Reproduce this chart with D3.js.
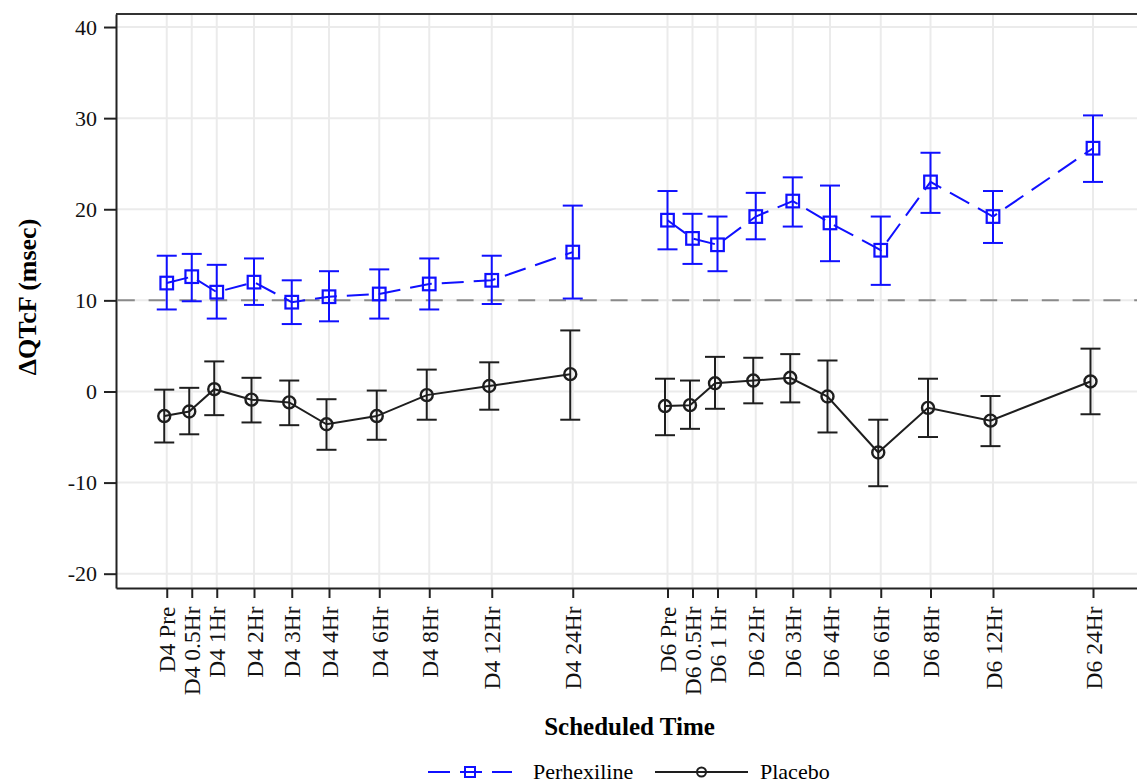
<!DOCTYPE html>
<html>
<head>
<meta charset="utf-8">
<script src="https://cdnjs.cloudflare.com/ajax/libs/d3/7.8.5/d3.min.js"></script>
<style>
  body { margin: 0; background: #fff; }
  svg { display: block; font-family: "Liberation Serif", "Times New Roman", serif; }
  .grid line { stroke: #ebebeb; stroke-width: 2; }
  .axis path { stroke: #222; stroke-width: 2; }
  .axis line { stroke: #222; stroke-width: 2; }
  .axis text { fill: #111; font-family: "Liberation Serif", "Times New Roman", serif; }
</style>
</head>
<body>
<div id="chart"></div>
<script>
// scheduled time points (axis position in plot units, label)
var timeLabels = ['D4 Pre', 'D4 0.5Hr', 'D4 1Hr', 'D4 2Hr', 'D4 3Hr', 'D4 4Hr', 'D4 6Hr', 'D4 8Hr', 'D4 12Hr', 'D4 24Hr',
                  'D6 Pre', 'D6 0.5Hr', 'D6 1 Hr', 'D6 2Hr', 'D6 3Hr', 'D6 4Hr', 'D6 6Hr', 'D6 8Hr', 'D6 12Hr', 'D6 24Hr'];
var timeValues = [0, 1, 2, 3.49, 5, 6.49, 8.5, 10.5, 13, 16.24,
                  20.03, 21.03, 22.03, 23.56, 25.04, 26.53, 28.56, 30.55, 33.05, 37.05];

var perhexMean  = [11.9, 12.6, 10.9, 12.0, 9.8, 10.4, 10.7, 11.8, 12.2, 15.3, 18.8, 16.8, 16.1, 19.2, 20.9, 18.5, 15.5, 23.0, 19.2, 26.7];
var perhexLower = [9.0, 9.9, 8.0, 9.5, 7.4, 7.7, 8.0, 9.0, 9.6, 10.2, 15.6, 14.0, 13.2, 16.7, 18.1, 14.3, 11.7, 19.6, 16.3, 23.0];
var perhexUpper = [14.9, 15.1, 13.9, 14.6, 12.2, 13.2, 13.4, 14.6, 14.9, 20.4, 22.0, 19.5, 19.2, 21.8, 23.5, 22.6, 19.2, 26.2, 22.0, 30.3];

var placeboMean  = [-2.7, -2.2, 0.25, -0.9, -1.2, -3.6, -2.7, -0.4, 0.6, 1.9, -1.6, -1.5, 0.9, 1.2, 1.5, -0.55, -6.7, -1.8, -3.2, 1.1];
var placeboLower = [-5.6, -4.7, -2.6, -3.4, -3.7, -6.4, -5.3, -3.1, -2.0, -3.1, -4.8, -4.1, -1.9, -1.3, -1.2, -4.5, -10.4, -5.0, -6.0, -2.5];
var placeboUpper = [0.2, 0.4, 3.3, 1.5, 1.2, -0.85, 0.1, 2.4, 3.2, 6.7, 1.4, 1.2, 3.8, 3.7, 4.1, 3.4, -3.1, 1.4, -0.5, 4.7];

var yTicks = [-20, -10, 0, 10, 20, 30, 40];
var refValue = 10;

var margin = { top: 14, right: 0, bottom: 196, left: 116 },
    W = 1137, H = 784,
    w = W - margin.left - margin.right,
    h = H - margin.top - margin.bottom;

var x = d3.scaleLinear().domain([-2.03, 38.81]).range([0, w]);
var y = d3.scaleLinear().domain([-21.57, 41.43]).range([h, 0]);

var svg = d3.select('#chart').append('svg')
  .attr('width', W)
  .attr('height', H);
var g = svg.append('g')
  .attr('transform', 'translate(' + margin.left + ',' + margin.top + ')');

// grid
var grid = g.append('g').attr('class', 'grid');
grid.selectAll('.gy').data(yTicks).enter().append('line')
  .attr('x1', 0).attr('x2', w)
  .attr('y1', function(d) { return y(d); }).attr('y2', function(d) { return y(d); });
grid.selectAll('.gx').data(timeValues).enter().append('line')
  .attr('y1', 0).attr('y2', h)
  .attr('x1', function(d) { return x(d); }).attr('x2', function(d) { return x(d); });

// reference line
g.append('line')
  .attr('x1', 0).attr('x2', w)
  .attr('y1', y(refValue)).attr('y2', y(refValue))
  .attr('stroke', '#8a8a8a')
  .attr('stroke-width', 2)
  .attr('stroke-dasharray', '17,13.8')
  .attr('stroke-dashoffset', 29);

function buildRows(mean, lower, upper) {
  return timeLabels.map(function(lab, i) {
    return { day: lab.slice(0, 2), t: timeValues[i], m: mean[i], lo: lower[i], hi: upper[i] };
  });
}

var series = [
  { name: 'Placebo', rows: buildRows(placeboMean, placeboLower, placeboUpper), color: '#1e1e1e', dash: null, shift: -2.5, marker: 'circle' },
  { name: 'Perhexiline', rows: buildRows(perhexMean, perhexLower, perhexUpper), color: '#1010ff', dash: '22,10', shift: 0, marker: 'square' }
];

series.forEach(function(s) {
  var sg = g.append('g');
  var px = function(d) { return x(d.t) + s.shift; };
  var line = d3.line().x(px).y(function(d) { return y(d.m); });

  // one polyline per study day
  d3.groups(s.rows, function(d) { return d.day; }).forEach(function(grp) {
    sg.append('path')
      .datum(grp[1])
      .attr('fill', 'none')
      .attr('stroke', s.color)
      .attr('stroke-width', 2)
      .attr('stroke-dasharray', s.dash)
      .attr('d', line);
  });

  // error bars
  var eb = sg.selectAll('.eb').data(s.rows).enter().append('g')
    .attr('stroke', s.color).attr('stroke-width', 2);
  eb.append('line')
    .attr('x1', px).attr('x2', px)
    .attr('y1', function(d) { return y(d.lo); }).attr('y2', function(d) { return y(d.hi); });
  eb.append('line')
    .attr('x1', function(d) { return px(d) - 10; }).attr('x2', function(d) { return px(d) + 10; })
    .attr('y1', function(d) { return y(d.lo); }).attr('y2', function(d) { return y(d.lo); });
  eb.append('line')
    .attr('x1', function(d) { return px(d) - 10; }).attr('x2', function(d) { return px(d) + 10; })
    .attr('y1', function(d) { return y(d.hi); }).attr('y2', function(d) { return y(d.hi); });

  // markers
  if (s.marker === 'circle') {
    sg.selectAll('.mk').data(s.rows).enter().append('circle')
      .attr('cx', px).attr('cy', function(d) { return y(d.m); })
      .attr('r', 6)
      .attr('fill', 'none').attr('stroke', s.color).attr('stroke-width', 2.4);
  } else {
    sg.selectAll('.mk').data(s.rows).enter().append('rect')
      .attr('x', function(d) { return px(d) - 6.3; }).attr('y', function(d) { return y(d.m) - 6.3; })
      .attr('width', 12.6).attr('height', 12.6)
      .attr('fill', 'none').attr('stroke', s.color).attr('stroke-width', 2.2);
  }
});

// frame top
g.append('line')
  .attr('x1', 0).attr('x2', w).attr('y1', 0).attr('y2', 0)
  .attr('stroke', '#333').attr('stroke-width', 2);

// y axis
var yAxis = d3.axisLeft(y).tickValues(yTicks).tickSize(12).tickSizeOuter(0).tickPadding(7)
  .tickFormat(function(d) { return String(d); });
g.append('g').attr('class', 'axis').call(yAxis)
  .attr('font-family', null)
  .selectAll('text').style('font-size', '22px');

// x axis with rotated schedule labels
var xAxis = d3.axisBottom(x)
  .tickValues(timeValues)
  .tickFormat(function(d, i) { return timeLabels[i]; })
  .tickSize(10).tickSizeOuter(0);
g.append('g').attr('class', 'axis')
  .attr('transform', 'translate(0,' + h + ')')
  .call(xAxis)
  .attr('font-family', null)
  .selectAll('text')
  .style('font-size', '23.5px')
  .attr('text-anchor', 'end')
  .attr('transform', 'rotate(-90)')
  .attr('x', -18.5)
  .attr('y', 0)
  .attr('dy', '0.35em');

// axis titles
svg.append('text')
  .attr('x', 629.5).attr('y', 735)
  .attr('text-anchor', 'middle')
  .style('font-weight', 'bold').style('font-size', '25px')
  .text('Scheduled Time');

svg.append('text')
  .attr('transform', 'translate(36,297) rotate(-90)')
  .attr('text-anchor', 'middle')
  .style('font-weight', 'bold').style('font-size', '26px')
  .text('ΔQTcF (msec)');

// legend
var legend = svg.append('g').attr('transform', 'translate(0,772)');
var legendItems = [
  { name: 'Perhexiline', x0: 428, x1: 512, tx: 533, s: series[1] },
  { name: 'Placebo', x0: 655, x1: 748, tx: 760, s: series[0] }
];
legendItems.forEach(function(it) {
  var cx = (it.x0 + it.x1) / 2;
  legend.append('line')
    .attr('x1', it.x0).attr('x2', it.x1).attr('y1', 0).attr('y2', 0)
    .attr('stroke', it.s.color).attr('stroke-width', 2)
    .attr('stroke-dasharray', it.s.dash);
  if (it.s.marker === 'circle') {
    legend.append('circle').attr('cx', cx).attr('cy', 0).attr('r', 4.5)
      .attr('fill', 'none').attr('stroke', it.s.color).attr('stroke-width', 2);
  } else {
    legend.append('rect').attr('x', cx - 5).attr('y', -5).attr('width', 10).attr('height', 10)
      .attr('fill', 'none').attr('stroke', it.s.color).attr('stroke-width', 2);
  }
  legend.append('text')
    .attr('x', it.tx).attr('y', 7)
    .style('font-size', '22px')
    .text(it.name);
});
</script>
</body>
</html>
